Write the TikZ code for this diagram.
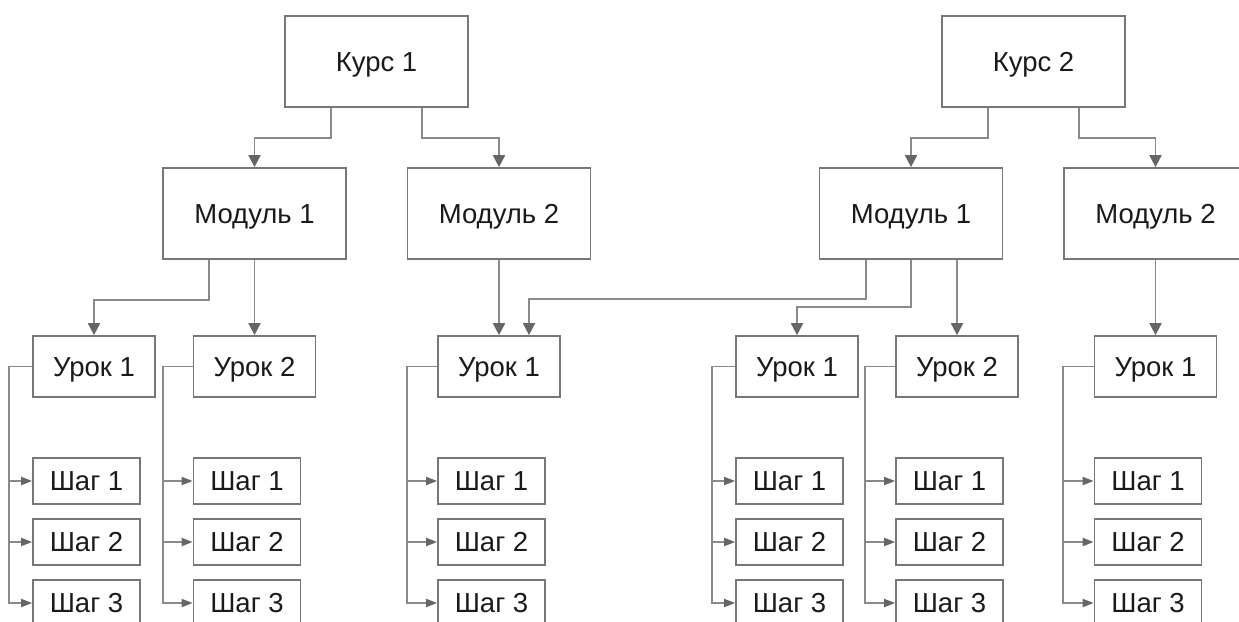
\documentclass[tikz,border=0pt]{standalone}
\usepackage{fontspec}
\setmainfont{Liberation Sans}
\usetikzlibrary{arrows.meta}
\definecolor{boxline}{HTML}{777777}
\definecolor{wire}{HTML}{8A8A8A}
\definecolor{tipfill}{HTML}{666666}
\definecolor{ink}{HTML}{1A1A1A}
\begin{document}
\begin{tikzpicture}[x=1pt,y=-1pt,
  box/.style={draw=boxline,line width=1.7pt,fill=white,text=ink,inner sep=0pt,
    text height=19.8pt,text depth=0pt,font=\fontsize{27.5}{31}\selectfont},
  course/.style={box,minimum width=183pt,minimum height=91pt},
  module/.style={box,minimum width=183pt,minimum height=91pt},
  lesson/.style={box,minimum width=122pt,minimum height=61pt},
  stepbox/.style={box,minimum width=107pt,minimum height=46pt,anchor=west},
  link/.style={draw=wire,line width=1.8pt,-{Triangle[length=12pt,width=12pt,color=tipfill]}},
  sublink/.style={draw=wire,line width=1.8pt,-{Triangle[length=11pt,width=8pt,color=tipfill]}}]
\useasboundingbox (0,0) rectangle (1239,621);
\clip (0,0) rectangle (1239,621);
\fill[white] (0,0) rectangle (1239,621);

% courses
\node[course] (k1) at (376.5,61.5) {Курс 1};
\node[course] (k2) at (1033.5,61.5) {Курс 2};

% modules
\node[module] (m1l) at (254.5,213.5) {Модуль 1};
\node[module] (m2l) at (499,213.5) {Модуль 2};
\node[module] (m1r) at (911,213.5) {Модуль 1};
\node[module] (m2r) at (1155.5,213.5) {Модуль 2};

% lessons
\node[lesson] (l1a) at (94,366.5) {Урок 1};
\node[lesson] (l2a) at (254.5,366.5) {Урок 2};
\node[lesson] (l1b) at (499,366.5) {Урок 1};
\node[lesson] (l1c) at (797,366.5) {Урок 1};
\node[lesson] (l2c) at (957,366.5) {Урок 2};
\node[lesson] (l1d) at (1155.5,366.5) {Урок 1};

% steps of every lesson, with side rails
\foreach \l/\rail in {l1a/23,l2a/30,l1b/30,l1c/23,l2c/30,l1d/31}{
  \foreach \n/\yy in {1/481,2/542,3/603}{
    \node[stepbox] (\l s\n) at (\l.west |- 0,\yy) {Шаг \n};
    \draw[sublink] (\l.west) -- ++(-\rail,0) |- (\l s\n.west);
  }
}

% course -> module
\draw[link] ([xshift=-45.5pt]k1.south) -- ++(0,30) -| (m1l.north);
\draw[link] ([xshift=45.5pt]k1.south) -- ++(0,30) -| (m2l.north);
\draw[link] ([xshift=-45.5pt]k2.south) -- ++(0,30) -| (m1r.north);
\draw[link] ([xshift=45.5pt]k2.south) -- ++(0,30) -| (m2r.north);

% module -> lesson
\draw[link] ([xshift=-45.5pt]m1l.south) -- ++(0,40) -| (l1a.north);
\draw[link] (m1l.south) -- (l2a.north);
\draw[link] (m2l.south) -- (l1b.north);
\draw[link] ([xshift=-45pt]m1r.south) -- ++(0,39) -| ([xshift=30pt]l1b.north);
\draw[link] (m1r.south) -- ++(0,47) -| (l1c.north);
\draw[link] (m1r.south -| l2c.north) -- (l2c.north);
\draw[link] (m2r.south) -- (l1d.north);
\end{tikzpicture}
\end{document}
